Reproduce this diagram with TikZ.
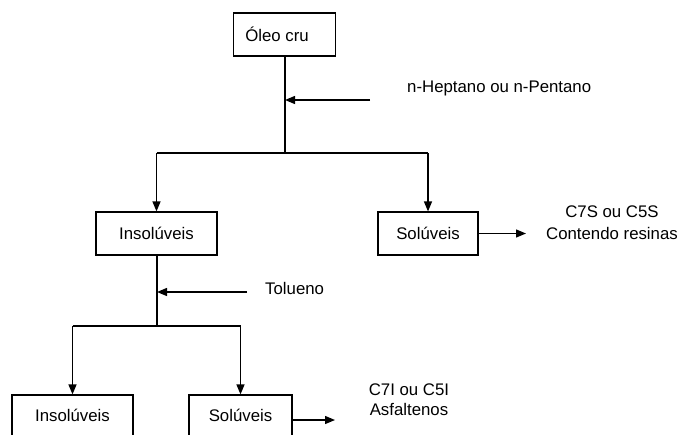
\documentclass[tikz,border=0pt]{standalone}
\usepackage{fontspec}
\setmainfont{Liberation Sans}
\usetikzlibrary{arrows.meta}
\begin{document}
\begin{tikzpicture}[x=1pt,y=-1pt,
  every node/.style={font=\fontsize{16.8}{21}\selectfont, inner sep=0pt},
  box/.style={draw, line width=1.2pt, minimum height=43pt},
  ln/.style={line width=1.3pt},
  arr/.style={line width=1.3pt, -{Triangle[length=10pt,width=8pt]}}]
\useasboundingbox (0,0) rectangle (682,434);
\clip (0,0) rectangle (682,434);
% top
\node[box, minimum width=102pt] (oleo) at (284.5,34.5) {\hspace*{-15pt}Óleo cru};
\coordinate (m1) at (285,100);
\coordinate (j1) at (285,153);
\coordinate (h1) at (370,100);
\node[anchor=west] (hep) at (407,88) {n-Heptano ou n-Pentano};
\draw[ln] (oleo.south -| j1) -- (j1);
\draw[arr] (h1) -- (m1);
% second level
\node[box, minimum width=121pt] (ins1) at (156.5,233.5) {Insolúveis};
\node[box, minimum width=100pt] (sol1) at (428,233.5) {Solúveis};
\draw[ln] (ins1.north |- j1) -- (sol1.north |- j1);
\draw[arr] (ins1.north |- j1) -- (ins1.north);
\draw[arr] (sol1.north |- j1) -- (sol1.north);
\coordinate (r1) at (526,233.5);
\draw[arr] (sol1.east) -- (r1);
\node[align=center, font=\fontsize{16.8}{22}\selectfont] (c7s) at (612,223) {C7S ou C5S\\Contendo resinas};
% third level
\coordinate (j2) at (157,326);
\coordinate (m2) at (157,292);
\coordinate (h2) at (247,292);
\draw[ln] (ins1.south -| j2) -- (j2);
\draw[arr] (h2) -- (m2);
\node[anchor=west] (tol) at (265,288) {Tolueno};
\node[box, minimum width=121pt, minimum height=44pt] (ins2) at (72.5,417) {\raisebox{4pt}{Insolúveis}};
\node[box, minimum width=103pt, minimum height=44pt] (sol2) at (240.5,417) {\raisebox{4pt}{Solúveis}};
\draw[ln] (ins2.north |- j2) -- (sol2.north |- j2);
\draw[arr] (ins2.north |- j2) -- (ins2.north);
\draw[arr] (sol2.north |- j2) -- (sol2.north);
\coordinate (r2) at (335,420);
\draw[arr] (sol2.east |- r2) -- (r2);
\node[align=center, font=\fontsize{16.8}{20}\selectfont] (c7i) at (409,400) {C7I ou C5I\\Asfaltenos};
\end{tikzpicture}
\end{document}
